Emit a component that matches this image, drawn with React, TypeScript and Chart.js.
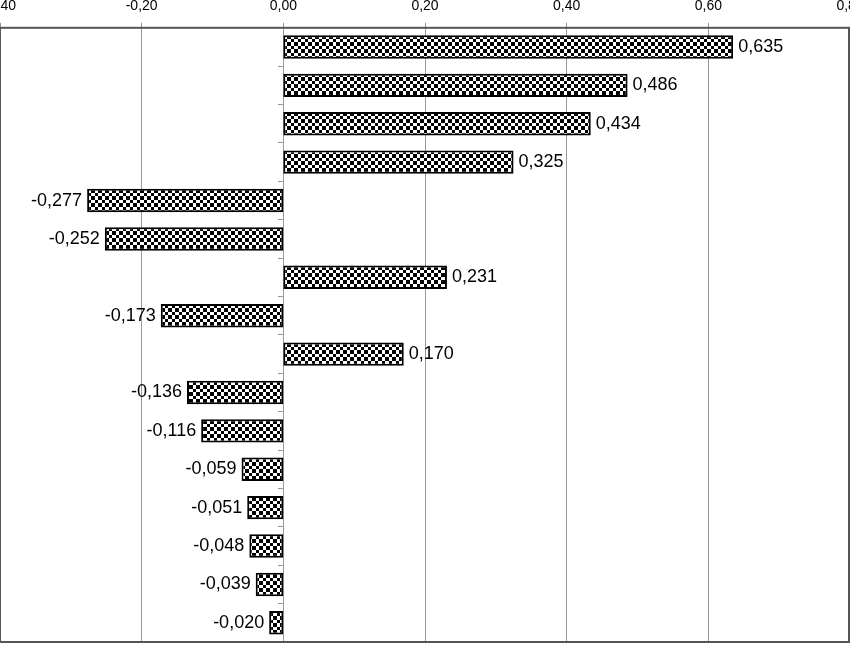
import React, { useEffect, useRef } from "react";
import { Chart, registerables } from "chart.js";

Chart.register(...registerables);

const categories: string[] = [
  "1", "2", "3", "4", "5", "6", "7", "8",
  "9", "10", "11", "12", "13", "14", "15", "16",
];
const values: number[] = [
  0.635, 0.486, 0.434, 0.325, -0.277, -0.252, 0.231, -0.173,
  0.17, -0.136, -0.116, -0.059, -0.051, -0.048, -0.039, -0.02,
];
const axisMin = -0.4;
const axisMax = 0.8;
const axisStep = 0.2;

const fmt = (v: number, d: number) => v.toFixed(d).replace(".", ",");

function makePattern(): CanvasPattern | string {
  const c = document.createElement("canvas");
  c.width = 7;
  c.height = 7;
  const g = c.getContext("2d");
  if (!g) return "#888";
  g.fillStyle = "#ffffff";
  g.fillRect(0, 0, 7, 7);
  g.fillStyle = "#000000";
  g.fillRect(0, 0, 4, 4);
  g.fillRect(4, 4, 3, 3);
  const p = g.createPattern(c, "repeat");
  return p || "#888";
}

const FONT = "'Liberation Sans', Arial, sans-serif";

const frameAndLabels = {
  id: "frameAndLabels",
  afterDatasetsDraw(chart: any) {
    const ctx = chart.ctx as CanvasRenderingContext2D;
    const meta = chart.getDatasetMeta(0);
    ctx.save();
    ctx.font = `18px ${FONT}`;
    ctx.fillStyle = "#000";
    ctx.textBaseline = "middle";
    meta.data.forEach((el: any, i: number) => {
      const v = values[i];
      const txt = fmt(v, 3);
      if (v >= 0) {
        ctx.textAlign = "left";
        ctx.fillText(txt, el.x + 5, el.y);
      } else {
        ctx.textAlign = "right";
        ctx.fillText(txt, el.x - 5, el.y);
      }
    });
    const a = chart.chartArea;
    ctx.strokeStyle = "#555";
    ctx.lineWidth = 2;
    ctx.strokeRect(a.left, a.top, a.right - a.left - 1, a.bottom - a.top);
    ctx.restore();
  },
};

export default function App() {
  const ref = useRef<HTMLCanvasElement | null>(null);
  useEffect(() => {
    if (!ref.current) return;
    const chart = new Chart(ref.current, {
      type: "bar",
      data: {
        labels: categories,
        datasets: [
          {
            data: values,
            backgroundColor: makePattern() as any,
            borderColor: "#000",
            borderWidth: 2,
            borderSkipped: false,
            categoryPercentage: 1,
            barPercentage: 0.61,
          },
        ],
      },
      options: {
        indexAxis: "y",
        animation: false,
        responsive: false,
        maintainAspectRatio: false,
        layout: { padding: { top: 4, bottom: 8, left: 0, right: 0 } },
        plugins: {
          legend: { display: false },
          tooltip: { enabled: false },
        },
        scales: {
          x: {
            type: "linear",
            position: "top",
            min: axisMin,
            max: axisMax,
            afterFit(scale: any) {
              scale.paddingLeft = 0;
              scale.paddingRight = 0;
            },
            ticks: {
              stepSize: axisStep,
              padding: 8,
              color: "#000",
              font: { family: FONT, size: 14 },
              callback: (v: any) => fmt(Number(v), 2),
            },
            grid: {
              color: "#999",
              lineWidth: 1,
              drawTicks: true,
              tickLength: 5,
            },
            border: { display: false },
          },
          y: {
            type: "category",
            position: { x: 0 } as any,
            offset: true,
            ticks: { display: false },
            grid: {
              offset: true,
              drawOnChartArea: false,
              drawTicks: true,
              tickLength: 5,
              color: "#999",
            },
            border: { display: true, color: "#999", width: 1 },
          },
        },
      },
      plugins: [frameAndLabels],
    });
    return () => chart.destroy();
  }, []);
  return (
    <div style={{ position: "fixed", left: 0, top: 0, width: 850, height: 650, overflow: "hidden", background: "#fff" }}>
      <canvas
        ref={ref}
        width={850}
        height={664}
        style={{ position: "absolute", left: 0, top: -14, width: 850, height: 664, display: "block" }}
      />
    </div>
  );
}
